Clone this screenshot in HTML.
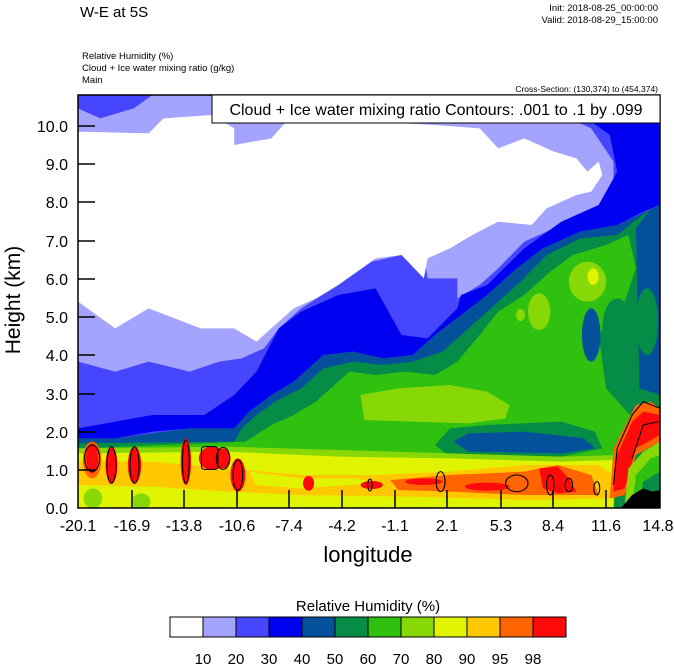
<!DOCTYPE html>
<html><head><meta charset="utf-8"><style>
html,body{margin:0;padding:0;background:#fff;}
svg text{font-family:"Liberation Sans",Arial,sans-serif;}
</style></head><body>
<svg width="674" height="667" viewBox="0 0 674 667" xmlns="http://www.w3.org/2000/svg">
<rect width="674" height="667" fill="#fff"/>
<text x="80" y="17" font-size="15">W-E at 5S</text>
<text x="658" y="11" font-size="9.5" text-anchor="end">Init: 2018-08-25_00:00:00</text>
<text x="658" y="23" font-size="9.5" text-anchor="end">Valid: 2018-08-29_15:00:00</text>
<text x="82" y="59" font-size="9.5">Relative Humidity   (%)</text>
<text x="82" y="71" font-size="9.5">Cloud + Ice water mixing ratio   (g/kg)</text>
<text x="82" y="83" font-size="9.5">Main</text>
<text x="658" y="92" font-size="8.5" text-anchor="end">Cross-Section: (130,374) to (454,374)</text>

<svg x="78" y="95" width="582" height="413" viewBox="0 0 1565 1239" preserveAspectRatio="none">
<rect width="1565" height="1239" fill="#4646ff"/>
<polygon fill="#a4a4ff" points="0,40 60,70 150,40 200,0 1260,0 1300,60 1380,100 1440,200 1440,320 1400,380 1300,390 1200,440 1130,520 1080,570 1020,610 1020,550 940,550 930,480 870,480 790,500 700,570 600,640 540,700 500,760 440,790 380,800 300,830 190,800 100,830 0,800"/>
<polygon fill="#fff" points="0,110 190,115 230,70 360,60 420,100 420,150 520,130 560,80 800,80 960,90 1080,100 1130,160 1200,130 1280,170 1340,190 1370,230 1400,200 1410,240 1380,290 1340,300 1260,340 1220,390 1130,380 1060,420 1000,460 940,490 930,550 870,480 800,490 700,570 640,610 580,640 540,680 480,740 420,700 330,700 190,640 100,700 0,620"/>
<polygon fill="#0000f0" points="1300,0 1565,0 1565,330 1520,350 1450,390 1350,410 1250,460 1180,520 1100,600 1030,660 960,720 900,780 820,790 740,770 660,780 580,860 520,900 460,950 420,1000 300,1000 200,1010 100,1030 0,1030 0,1000 200,960 340,960 420,900 480,830 540,700 600,650 700,600 800,580 830,640 870,720 940,730 1020,640 1030,600 1100,570 1200,460 1300,380 1400,330 1450,230 1430,120 1380,80"/>
<polygon fill="#05509a" points="1565,330 1450,390 1350,410 1250,460 1180,520 1100,600 1030,660 960,720 900,780 820,790 740,770 660,780 580,860 520,900 460,950 420,1000 300,1000 100,1030 0,1030 0,1060 1565,1060"/>
<polygon fill="#058c46" points="1540,340 1450,420 1350,430 1260,480 1190,560 1110,640 1050,700 980,770 900,800 820,810 740,800 660,820 600,880 530,920 480,960 440,1000 420,1040 0,1045 0,1239 1565,1239 1565,900 1510,880 1500,400"/>
<polygon fill="#30c010" points="1480,420 1420,450 1330,480 1270,530 1200,600 1130,650 1080,720 1020,800 960,840 880,830 800,840 730,830 690,870 640,920 580,960 520,990 450,1040 0,1060 0,1239 1440,1239 1460,1060 1500,980 1420,880 1400,720 1470,620 1500,520"/>
<polygon fill="#058c46" points="960,1050 1000,1000 1100,990 1300,980 1390,1010 1410,1060 1300,1085 1000,1085"/>
<polygon fill="#05509a" points="1010,1040 1050,1015 1200,1010 1360,1030 1390,1060 1300,1075 1050,1070"/>
<ellipse cx="1450" cy="700" rx="40" ry="90" fill="#058c46"/>
<ellipse cx="1380" cy="720" rx="25" ry="80" fill="#05509a"/>
<ellipse cx="1530" cy="680" rx="30" ry="100" fill="#058c46"/>
<polygon fill="#88d808" points="760,900 860,880 1000,870 1100,890 1160,930 1150,970 1050,985 900,980 770,975"/>
<ellipse cx="1240" cy="650" rx="30" ry="55" fill="#88d808"/>
<ellipse cx="1370" cy="560" rx="50" ry="60" fill="#88d808"/>
<ellipse cx="1385" cy="545" rx="15" ry="25" fill="#e0f400"/>
<ellipse cx="1190" cy="660" rx="12" ry="18" fill="#88d808"/>
<polygon fill="#88d808" points="0,1060 400,1055 700,1065 1000,1075 1300,1085 1450,1080 1440,1239 0,1239"/>
<polygon fill="#e0f400" points="0,1075 400,1070 700,1085 1000,1090 1300,1100 1440,1095 1430,1239 0,1239"/>
<rect x="0" y="1190" width="1440" height="49" fill="#e0f400"/>
<ellipse cx="40" cy="1210" rx="25" ry="30" fill="#88d808"/>
<ellipse cx="170" cy="1220" rx="25" ry="25" fill="#88d808"/>
<polygon fill="#ffc800" points="0,1100 200,1100 400,1120 600,1140 800,1140 1000,1130 1200,1110 1400,1110 1440,1140 1440,1210 1200,1215 900,1205 600,1200 400,1190 200,1175 0,1170"/>
<polygon fill="#e0f400" points="460,1130 600,1150 750,1150 800,1165 600,1180 480,1170"/>
<polygon fill="#ff6400" points="840,1155 1000,1140 1200,1130 1290,1110 1380,1140 1400,1200 1200,1200 1000,1190 860,1185"/>
<polygon fill="#ff0a0a" points="1240,1120 1290,1115 1320,1150 1340,1190 1290,1195 1250,1180"/>
<ellipse cx="1100" cy="1175" rx="60" ry="12" fill="#ff0a0a"/>
<ellipse cx="930" cy="1160" rx="50" ry="10" fill="#ff0a0a"/>
<ellipse cx="790" cy="1170" rx="30" ry="12" fill="#ff0a0a"/>
<ellipse cx="620" cy="1165" rx="15" ry="22" fill="#ff0a0a"/>
<ellipse cx="38" cy="1095" rx="25" ry="55" fill="#ff6400"/>
<ellipse cx="38" cy="1090" rx="16" ry="45" fill="#ff0a0a"/>
<ellipse cx="90" cy="1110" rx="16" ry="55" fill="#ff0a0a"/>
<ellipse cx="152" cy="1110" rx="18" ry="55" fill="#ff0a0a"/>
<ellipse cx="290" cy="1100" rx="14" ry="70" fill="#ff0a0a"/>
<ellipse cx="360" cy="1090" rx="35" ry="35" fill="#ff0a0a"/>
<ellipse cx="390" cy="1090" rx="20" ry="30" fill="#ff0a0a"/>
<ellipse cx="430" cy="1140" rx="20" ry="50" fill="#ff0a0a"/>
<polygon fill="#ff6400" points="1430,1210 1440,1060 1500,930 1540,920 1565,940 1565,1040 1500,1080 1470,1200"/>
<polygon fill="#ff0a0a" points="1440,1190 1450,1080 1490,980 1520,950 1565,960 1565,1020 1500,1060 1470,1180"/>
<polygon fill="#88d808" points="1470,1230 1480,1120 1520,1070 1565,1040 1565,1239"/>
<polygon fill="#30c010" points="1490,1239 1500,1140 1540,1090 1565,1080 1565,1239"/>
<polygon fill="#058c46" points="1510,1239 1520,1160 1565,1130 1565,1239"/>
<polygon fill="#000" points="1460,1239 1490,1200 1520,1180 1545,1190 1565,1185 1565,1239"/>
<g fill="none" stroke="#000" stroke-width="3">
<ellipse cx="38" cy="1090" rx="20" ry="40"/>
<ellipse cx="90" cy="1110" rx="12" ry="55"/>
<ellipse cx="152" cy="1110" rx="12" ry="55"/>
<ellipse cx="290" cy="1100" rx="9" ry="65"/>
<rect x="332" y="1055" width="44" height="68" rx="8"/>
<ellipse cx="390" cy="1090" rx="18" ry="33"/>
<ellipse cx="430" cy="1140" rx="13" ry="45"/>
<ellipse cx="785" cy="1170" rx="6" ry="18"/>
<ellipse cx="975" cy="1160" rx="12" ry="30"/>
<ellipse cx="1180" cy="1165" rx="30" ry="25"/>
<ellipse cx="1270" cy="1170" rx="10" ry="30"/>
<ellipse cx="1320" cy="1170" rx="10" ry="20"/>
<ellipse cx="1395" cy="1180" rx="8" ry="20"/>
<polyline points="1440,1170 1450,1060 1490,960 1520,920 1565,940"/>
<polyline points="1490,1090 1520,990 1560,980"/>
</g>
</svg>

<rect x="78" y="95" width="582" height="413" fill="none" stroke="#000" stroke-width="1.5"/>
<rect x="212" y="95" width="448" height="28" fill="#fff" stroke="#000" stroke-width="1"/>
<text x="436" y="115" font-size="16" text-anchor="middle">Cloud + Ice water mixing ratio Contours: .001 to .1 by .099</text>

<g stroke="#000" stroke-width="1.5">
<line x1="78" y1="126" x2="95" y2="126"/><line x1="78" y1="164" x2="95" y2="164"/><line x1="78" y1="202" x2="95" y2="202"/><line x1="78" y1="241" x2="95" y2="241"/><line x1="78" y1="279" x2="95" y2="279"/><line x1="78" y1="317" x2="95" y2="317"/><line x1="78" y1="355" x2="95" y2="355"/><line x1="78" y1="394" x2="95" y2="394"/><line x1="78" y1="432" x2="95" y2="432"/><line x1="78" y1="470" x2="95" y2="470"/>
<line x1="132" y1="508" x2="132" y2="490"/><line x1="184" y1="508" x2="184" y2="490"/><line x1="237" y1="508" x2="237" y2="490"/><line x1="289" y1="508" x2="289" y2="490"/><line x1="342" y1="508" x2="342" y2="490"/><line x1="395" y1="508" x2="395" y2="490"/><line x1="447" y1="508" x2="447" y2="490"/><line x1="501" y1="508" x2="501" y2="490"/><line x1="553" y1="508" x2="553" y2="490"/><line x1="606" y1="508" x2="606" y2="490"/>
</g>
<g font-size="16" text-anchor="end">
<text x="68" y="132">10.0</text><text x="68" y="170">9.0</text><text x="68" y="208">8.0</text><text x="68" y="247">7.0</text><text x="68" y="285">6.0</text><text x="68" y="323">5.0</text><text x="68" y="361">4.0</text><text x="68" y="400">3.0</text><text x="68" y="438">2.0</text><text x="68" y="476">1.0</text><text x="68" y="514">0.0</text>
</g>
<g font-size="16" text-anchor="middle">
<text x="78" y="531">-20.1</text><text x="132" y="531">-16.9</text><text x="184" y="531">-13.8</text><text x="237" y="531">-10.6</text><text x="289" y="531">-7.4</text><text x="342" y="531">-4.2</text><text x="395" y="531">-1.1</text><text x="447" y="531">2.1</text><text x="501" y="531">5.3</text><text x="553" y="531">8.4</text><text x="606" y="531">11.6</text><text x="658" y="531">14.8</text>
</g>
<text x="368" y="562" font-size="22" text-anchor="middle">longitude</text>
<text transform="translate(20,300) rotate(-90)" font-size="21" text-anchor="middle">Height (km)</text>

<text x="368" y="611" font-size="15" text-anchor="middle">Relative Humidity  (%)</text>
<g stroke="#000" stroke-width="1">
<rect x="170" y="617" width="33" height="20" fill="#fff"/>
<rect x="203" y="617" width="33" height="20" fill="#a4a4ff"/>
<rect x="236" y="617" width="33" height="20" fill="#4646ff"/>
<rect x="269" y="617" width="33" height="20" fill="#0000f0"/>
<rect x="302" y="617" width="33" height="20" fill="#05509a"/>
<rect x="335" y="617" width="33" height="20" fill="#058c46"/>
<rect x="368" y="617" width="33" height="20" fill="#30c010"/>
<rect x="401" y="617" width="33" height="20" fill="#88d808"/>
<rect x="434" y="617" width="33" height="20" fill="#e0f400"/>
<rect x="467" y="617" width="33" height="20" fill="#ffc800"/>
<rect x="500" y="617" width="33" height="20" fill="#ff6400"/>
<rect x="533" y="617" width="33" height="20" fill="#ff0a0a"/>
</g>
<g font-size="15" text-anchor="middle">
<text x="203" y="664">10</text><text x="236" y="664">20</text><text x="269" y="664">30</text><text x="302" y="664">40</text><text x="335" y="664">50</text><text x="368" y="664">60</text><text x="401" y="664">70</text><text x="434" y="664">80</text><text x="467" y="664">90</text><text x="500" y="664">95</text><text x="533" y="664">98</text>
</g>
</svg>
</body></html>
